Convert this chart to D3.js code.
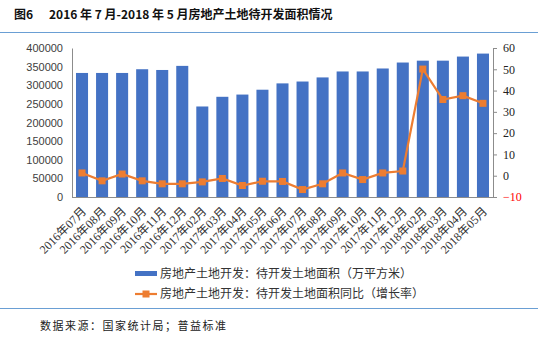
<!DOCTYPE html>
<html lang="zh">
<head>
<meta charset="UTF-8">
<title>图6 房地产土地待开发面积情况</title>
<script src="https://d3js.org/d3.v7.min.js"></script>
<style>
    body { margin: 0; background: #fff; }
    svg { display: block; }
    .axis path, .axis line { stroke: #8c8c8c; }
    .cjk { font-family: "Noto Sans CJK SC", sans-serif; }
</style>
</head>
<body>
<div id="chart"></div>
<script>
// months on the x axis (no January values in the source)
const months = ["2016年07月", "2016年08月", "2016年09月", "2016年10月", "2016年11月", "2016年12月",
    "2017年02月", "2017年03月", "2017年04月", "2017年05月", "2017年06月", "2017年07月",
    "2017年08月", "2017年09月", "2017年10月", "2017年11月", "2017年12月",
    "2018年02月", "2018年03月", "2018年04月", "2018年05月"];

// 待开发土地面积（万平方米）
const area = [333000, 333000, 333000, 343000, 341000, 352000,
    243000, 269000, 275000, 288000, 305000, 310000,
    321000, 337000, 337000, 345000, 361000,
    366000, 366000, 377000, 385000];

// 同比增长率 (%)
const yoy = [1.3, -2.4, 0.8, -2.4, -3.8, -3.8,
    -2.9, -1.3, -4.6, -2.6, -2.7, -6.5,
    -3.8, 1.3, -1.8, 1.3, 2.2,
    50.1, 35.8, 37.6, 34.0];

const leftTicks = [0, 50000, 100000, 150000, 200000, 250000, 300000, 350000, 400000];
const rightTicks = [-10, 0, 10, 20, 30, 40, 50, 60];

const W = 538, H = 338;
const plot = { left: 72, right: 493, top: 48, bottom: 197 };

const svg = d3.select("#chart").append("svg")
    .attr("width", W)
    .attr("height", H);

// title + rules
svg.append("text")
    .attr("x", 14).attr("y", 19)
    .attr("class", "cjk")
    .style("font-size", "12px").style("font-weight", "bold")
    .attr("fill", "#111")
    .text("图6");
svg.append("text")
    .attr("x", 49).attr("y", 19)
    .attr("class", "cjk")
    .style("font-size", "12px").style("font-weight", "bold")
    .attr("fill", "#111")
    .text("2016 年 7 月-2018 年 5 月房地产土地待开发面积情况");

svg.append("line")
    .attr("x1", 0).attr("x2", W).attr("y1", 32.5).attr("y2", 32.5)
    .attr("stroke", "#6a9fd4").attr("stroke-width", 1.2);
svg.append("line")
    .attr("x1", 0).attr("x2", W).attr("y1", 308.5).attr("y2", 308.5)
    .attr("stroke", "#6a9fd4").attr("stroke-width", 1.2);

// scales
const x = d3.scaleBand()
    .domain(months)
    .range([plot.left, plot.right])
    .paddingInner(0.4)
    .paddingOuter(0.2);

const yL = d3.scaleLinear().domain([0, 400000]).range([plot.bottom, plot.top]);
const yR = d3.scaleLinear().domain([-10, 60]).range([plot.bottom, plot.top]);

// bars
svg.append("g").selectAll("rect")
    .data(area)
    .join("rect")
    .attr("x", (d, i) => x(months[i]))
    .attr("y", d => yL(d))
    .attr("width", x.bandwidth())
    .attr("height", d => yL(0) - yL(d))
    .attr("fill", "#4472c4");

// axes
const axL = svg.append("g")
    .attr("class", "axis")
    .attr("transform", `translate(${plot.left},0)`)
    .call(d3.axisLeft(yL).tickValues(leftTicks).tickSize(0).tickPadding(9).tickFormat(d3.format("d")));
axL.selectAll("text")
    .style("font-family", "'Liberation Sans', Arial, sans-serif")
    .style("font-size", "11px")
    .attr("fill", "#404040");

const axR = svg.append("g")
    .attr("class", "axis")
    .attr("transform", `translate(${plot.right},0)`)
    .call(d3.axisRight(yR).tickValues(rightTicks).tickSize(4).tickPadding(6));
axR.selectAll("text")
    .style("font-family", "'Liberation Serif', 'Times New Roman', serif")
    .style("font-size", "12px")
    .attr("fill", d => d < 0 ? "#ff0000" : "#222");

const axB = svg.append("g")
    .attr("class", "axis")
    .attr("transform", `translate(0,${plot.bottom})`)
    .call(d3.axisBottom(x).tickSize(0).tickSizeOuter(0).tickFormat(""));
axB.select(".domain").attr("d", `M${plot.left},0.5H${plot.right}`);

// rotated month labels
svg.append("g").selectAll("text")
    .data(months)
    .join("text")
    .attr("transform", d => `translate(${x(d) + x.bandwidth() / 2 + 2},${plot.bottom + 12}) rotate(-45)`)
    .attr("text-anchor", "end")
    .attr("dy", "0.35em")
    .style("font-family", "'Liberation Serif', 'Noto Sans CJK SC', serif")
    .style("font-size", "12px")
    .attr("fill", "#333")
    .text(d => d);

// line series
const line = d3.line()
    .x((d, i) => x(months[i]) + x.bandwidth() / 2)
    .y(d => yR(d));

svg.append("path")
    .datum(yoy)
    .attr("d", line)
    .attr("fill", "none")
    .attr("stroke", "#ed7d31")
    .attr("stroke-width", 2.2);

svg.append("g").selectAll("rect")
    .data(yoy)
    .join("rect")
    .attr("x", (d, i) => x(months[i]) + x.bandwidth() / 2 - 3.5)
    .attr("y", d => yR(d) - 3.5)
    .attr("width", 7)
    .attr("height", 7)
    .attr("fill", "#ed7d31");

// legend
const legend = svg.append("g");
legend.append("rect")
    .attr("x", 135).attr("y", 271).attr("width", 22).attr("height", 5)
    .attr("fill", "#4472c4");
legend.append("text")
    .attr("x", 160).attr("y", 273.5).attr("dy", "0.35em")
    .attr("class", "cjk").style("font-size", "12px").attr("fill", "#333")
    .text("房地产土地开发：待开发土地面积（万平方米）");

legend.append("line")
    .attr("x1", 135).attr("x2", 157).attr("y1", 294).attr("y2", 294)
    .attr("stroke", "#ed7d31").attr("stroke-width", 2.2);
legend.append("rect")
    .attr("x", 142.5).attr("y", 290.5).attr("width", 7).attr("height", 7)
    .attr("fill", "#ed7d31");
legend.append("text")
    .attr("x", 160).attr("y", 294).attr("dy", "0.35em")
    .attr("class", "cjk").style("font-size", "12px").attr("fill", "#333")
    .text("房地产土地开发：待开发土地面积同比（增长率）");

// source note
svg.append("text")
    .attr("x", 40).attr("y", 326).attr("dy", "0.35em")
    .attr("class", "cjk")
    .style("font-size", "11px")
    .style("letter-spacing", "1.5px")
    .attr("fill", "#222")
    .text("数据来源：国家统计局；普益标准");
</script>
</body>
</html>
